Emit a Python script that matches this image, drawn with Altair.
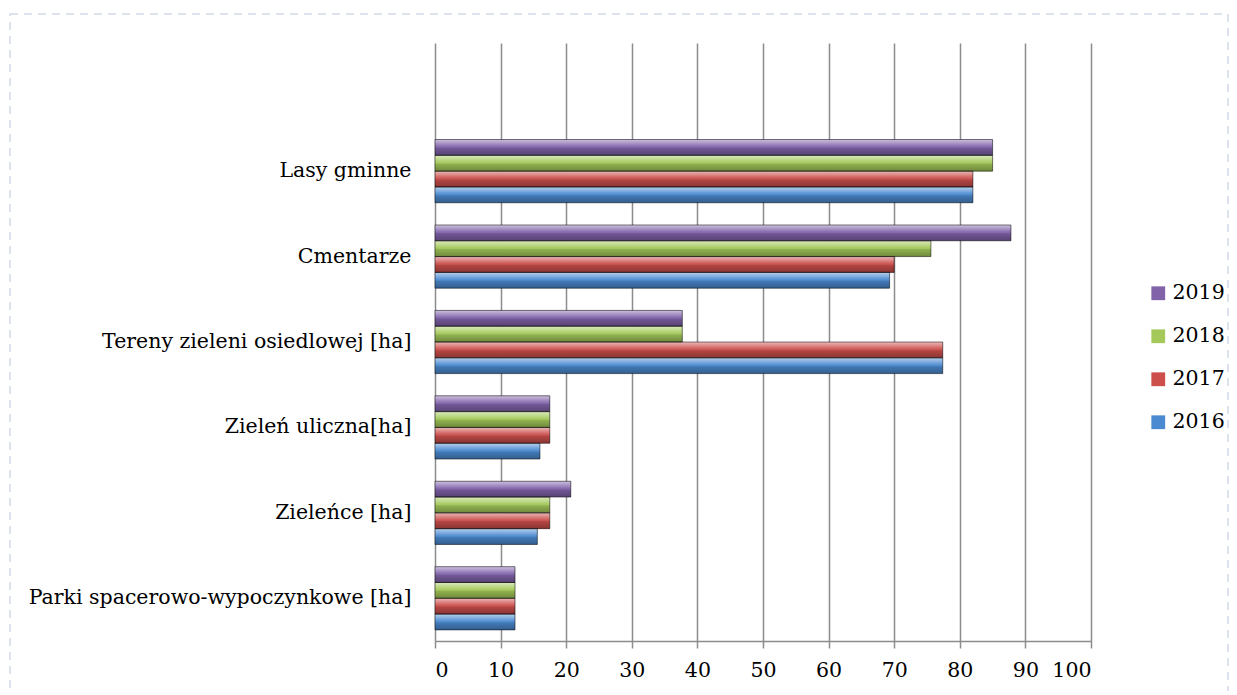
import altair as alt
import pandas as pd

categories = [
    "Lasy gminne",
    "Cmentarze",
    "Tereny zieleni osiedlowej [ha]",
    "Zieleń uliczna[ha]",
    "Zieleńce [ha]",
    "Parki spacerowo-wypoczynkowe [ha]",
]
years = ["2016", "2017", "2018", "2019"]
v2016 = [82, 69.3, 77.4, 16.0, 15.6, 12.2]
v2017 = [82, 70.0, 77.4, 17.5, 17.5, 12.2]
v2018 = [85, 75.6, 37.7, 17.5, 17.5, 12.2]
v2019 = [85, 87.8, 37.7, 17.5, 20.7, 12.2]
x_ticks = [0, 10, 20, 30, 40, 50, 60, 70, 80, 90, 100]

series = {"2016": v2016, "2017": v2017, "2018": v2018, "2019": v2019}
rows = []
for y in years:
    for c, v in zip(categories, series[y]):
        rows.append({"category": c, "year": y, "value": v})
df = pd.DataFrame(rows)

FONT = "DejaVu Serif"
FS = 20.5
GRID = "#8c8c8c"
year_order = ["2019", "2018", "2017", "2016"]
year_colors = ["#8163aa", "#a4c95a", "#cc4f4c", "#4b8ad0"]
y_domain = [" "] + categories

base = alt.Chart(df).encode(
    x=alt.X(
        "value:Q",
        scale=alt.Scale(domain=[0, 100], nice=False),
        axis=alt.Axis(
            values=x_ticks, title=None, grid=True, gridColor=GRID, gridWidth=1.5,
            domainColor=GRID, domainWidth=1.5, tickColor=GRID, tickWidth=1.5,
            tickSize=7, labelFont=FONT, labelFontSize=FS, labelColor="black",
            labelPadding=12,
        ),
    ),
    y=alt.Y(
        "category:N",
        scale=alt.Scale(domain=y_domain, paddingInner=0.26, paddingOuter=0.13),
        axis=alt.Axis(
            title=None, domain=False, ticks=False, tickSize=0, labelPadding=24,
            labelFont=FONT, labelFontSize=FS, labelColor="black", labelLimit=600,
        ),
    ),
    yOffset=alt.YOffset("year:N", scale=alt.Scale(domain=year_order)),
)

bars = base.mark_bar().encode(
    color=alt.Color(
        "year:N",
        scale=alt.Scale(domain=year_order, range=year_colors),
        legend=alt.Legend(
            title=None, orient="none", legendX=713, legendY=240,
            symbolType="square", symbolSize=190, symbolStrokeWidth=0,
            labelFont=FONT, labelFontSize=FS, labelColor="black",
            rowPadding=22, labelOffset=4,
        ),
    )
)

overlay = base.mark_bar(
    fill=alt.Gradient(
        gradient="linear", x1=0, y1=0, x2=0, y2=1,
        stops=[
            alt.GradientStop(offset=0, color="rgba(255,255,255,0.6)"),
            alt.GradientStop(offset=0.25, color="rgba(255,255,255,0.3)"),
            alt.GradientStop(offset=0.45, color="rgba(255,255,255,0.05)"),
            alt.GradientStop(offset=0.55, color="rgba(0,0,0,0.12)"),
            alt.GradientStop(offset=1, color="rgba(0,0,0,0.32)"),
        ],
    ),
    stroke="rgba(0,0,0,0.5)",
    strokeWidth=1,
)

border = alt.Chart(pd.DataFrame({"k": [0]})).mark_rect(
    fill="transparent", stroke="#dce3ef", strokeWidth=2, strokeDash=[8, 6], clip=False
).encode(
    x=alt.value(-425), x2=alt.value(793), y=alt.value(-29), y2=alt.value(700)
)

chart = alt.layer(border, bars, overlay).properties(
    width=656,
    height=598,
    autosize=alt.AutoSizeParams(type="none"),
    padding={"left": 427, "top": 35, "right": 138, "bottom": 50},
).configure_view(stroke=None)

chart.save("out.html", embed_options={"renderer": "svg", "actions": False})
